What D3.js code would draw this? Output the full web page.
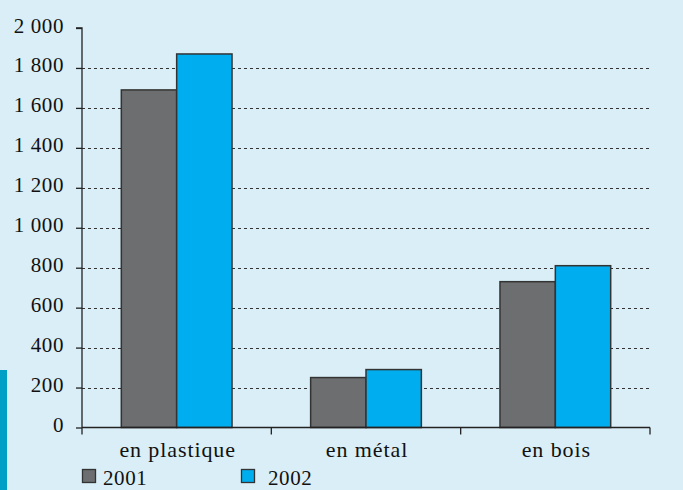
<!DOCTYPE html>
<html>
<head>
<meta charset="utf-8">
<script src="https://cdn.jsdelivr.net/npm/d3@7"></script>
<style>
  body { margin: 0; background: #d9eef6; }
  svg { display: block; }
  svg text { font-family: "Times New Roman", Tinos, "Liberation Serif", "DejaVu Serif", "Noto Serif", serif !important; fill: #111; }
</style>
</head>
<body>
<div id="chart"></div>
<script>
// data
var categories = ["en plastique", "en métal", "en bois"];
var years = ["2001", "2002"];
var values2001 = [1690, 250, 730];
var values2002 = [1870, 290, 810];
var yTicks = [0, 200, 400, 600, 800, 1000, 1200, 1400, 1600, 1800, 2000];

var colors = {"2001": "#6d6e70", "2002": "#00aeef"};

var width = 683, height = 490;
var margin = {top: 28, left: 82, right: 33, bottom: 62};

var svg = d3.select("#chart").append("svg")
    .attr("width", width)
    .attr("height", height);

svg.append("rect")
    .attr("width", width).attr("height", height)
    .attr("fill", "#d9eef6");

// small teal accent on the left
svg.append("rect")
    .attr("x", 0).attr("y", 370)
    .attr("width", 7).attr("height", 120)
    .attr("fill", "#00a0c6");

var fr = d3.formatLocale({decimal: ",", thousands: "\u00a0", grouping: [3], currency: ["", ""]});
var fmt = fr.format(",d");

var y = d3.scaleLinear()
    .domain([0, 2000])
    .range([height - margin.bottom - 0.5, margin.top]);

var x0 = d3.scaleBand()
    .domain(categories)
    .range([margin.left, width - margin.right])
    .padding(0);

var x1 = d3.scaleBand()
    .domain(years)
    .range([0, x0.bandwidth()])
    .paddingInner(0)
    .paddingOuter(0.71);

// dotted gridlines
svg.append("g")
    .selectAll("line")
    .data(yTicks.filter(function(d) { return d > 0 && d < 2000; }))
    .enter().append("line")
    .attr("x1", margin.left).attr("x2", width - margin.right)
    .attr("y1", function(d) { return Math.round(y(d)) + 0.5; })
    .attr("y2", function(d) { return Math.round(y(d)) + 0.5; })
    .attr("stroke", "#333")
    .attr("stroke-width", 1)
    .attr("stroke-dasharray", "3,3");

// bars
var rows = categories.map(function(c, i) {
    return {cat: c, "2001": values2001[i], "2002": values2002[i]};
});

svg.append("g")
    .selectAll("g")
    .data(rows)
    .enter().append("g")
    .attr("transform", function(d) { return "translate(" + x0(d.cat) + ",0)"; })
    .selectAll("rect")
    .data(function(d) { return years.map(function(k) { return {key: k, value: d[k]}; }); })
    .enter().append("rect")
    .attr("x", function(d) { return x1(d.key); })
    .attr("y", function(d) { return y(d.value); })
    .attr("width", x1.bandwidth())
    .attr("height", function(d) { return y(0) - y(d.value); })
    .attr("fill", function(d) { return colors[d.key]; })
    .attr("stroke", "#333")
    .attr("stroke-width", 1.5);

// y axis
var yAxis = svg.append("g")
    .attr("transform", "translate(" + margin.left + ",0)")
    .call(d3.axisLeft(y).tickValues(yTicks).tickFormat(fmt).tickSize(6).tickPadding(12));
yAxis.attr("font-family", null);
yAxis.select(".domain").attr("stroke", "#222").attr("stroke-width", 1.3)
    .attr("d", "M-6," + y(2000) + "H0V" + y(0));
yAxis.selectAll(".tick line").attr("stroke", "#222").attr("stroke-width", 1.3);
yAxis.selectAll(".tick text")
    .attr("dy", "4px")
    .style("font-size", "21px")
    .style("letter-spacing", "0.6px")
    .attr("fill", "#111");

// x axis
var xAxisG = svg.append("g")
    .attr("transform", "translate(0," + y(0) + ")");
xAxisG.append("line")
    .attr("x1", margin.left).attr("x2", width - margin.right)
    .attr("stroke", "#222").attr("stroke-width", 1.3);
var xEdges = categories.map(function(c) { return x0(c); }).concat([x0.range()[1]]);
xAxisG.selectAll(".xtick")
    .data(xEdges)
    .enter().append("line")
    .attr("class", "xtick")
    .attr("x1", function(d) { return d; }).attr("x2", function(d) { return d; })
    .attr("y1", 0).attr("y2", 7)
    .attr("stroke", "#222").attr("stroke-width", 1.3);
xAxisG.selectAll(".xlabel")
    .data(categories)
    .enter().append("text")
    .attr("class", "xlabel")
    .attr("x", function(d) { return x0(d) + x0.bandwidth() / 2 + 1; })
    .attr("y", 29)
    .attr("text-anchor", "middle")
    .style("font-size", "22px")
    .style("letter-spacing", "0.9px")
    .text(function(d) { return d; });

// legend
var legendX = [82, 241];
var legend = svg.append("g")
    .selectAll("g")
    .data(years)
    .enter().append("g")
    .attr("transform", function(d, i) { return "translate(" + legendX[i] + ",469)"; });
legend.append("rect")
    .attr("x", 0.5).attr("y", 0.5)
    .attr("width", 13).attr("height", 13)
    .attr("fill", function(d) { return colors[d]; })
    .attr("stroke", "#333").attr("stroke-width", 1.3);
legend.append("text")
    .attr("x", function(d, i) { return i === 0 ? 21 : 27; })
    .attr("y", 16)
    .style("font-size", "21px")
    .style("letter-spacing", "0.6px")
    .text(function(d) { return d; });
</script>
</body>
</html>
